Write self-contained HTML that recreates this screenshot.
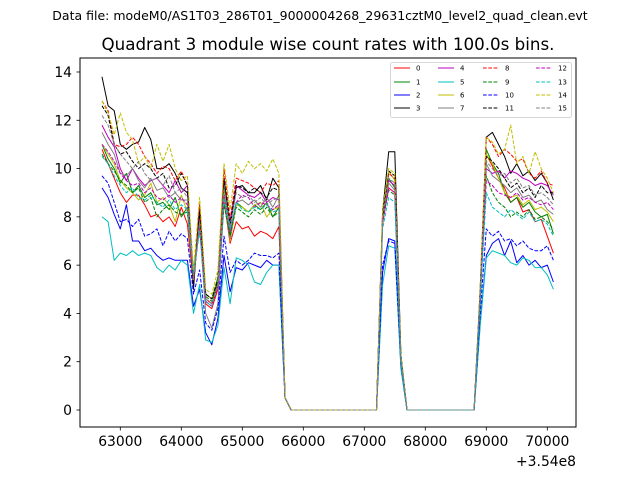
<!DOCTYPE html>
<html><head><meta charset="utf-8"><style>
body{margin:0;background:#fff;}
svg text{font-family:"DejaVu Sans","Liberation Sans",sans-serif;}
</style></head><body>
<svg id="chart" width="640" height="480" xmlns="http://www.w3.org/2000/svg">
<rect width="640" height="480" fill="#fff"/>
<text x="320" y="20" font-size="12.5" text-anchor="middle">Data file: modeM0/AS1T03_286T01_9000004268_29631cztM0_level2_quad_clean.evt</text>
<text x="328" y="50" font-size="16.7" text-anchor="middle">Quadrant 3 module wise count rates with 100.0s bins.</text>
<g id="plot"></g>
<rect x="80" y="58" width="496" height="369" fill="none" stroke="#000" stroke-width="1"/>
<g id="axes"></g>
<text x="576" y="466" font-size="13.9" text-anchor="end">+3.54e8</text>
<g id="legend"></g>
</svg>
<script>
const times = [];
for (let t = 62700; t <= 70100; t += 100) times.push(t);
const xTicks = [63000,64000,65000,66000,67000,68000,69000,70000];
const xTickLabels = ["63000","64000","65000","66000","67000","68000","69000","70000"];
const yTicks = [0,2,4,6,8,10,12,14];
const yTickLabels = ["0","2","4","6","8","10","12","14"];
const seriesNames = ["0","1","2","3","4","5","6","7","8","9","10","11","12","13","14","15"];
const gap1 = [0.5,0,0,0,0,0,0,0,0,0,0,0,0,0,0,0];
const gap2 = [0,0,0,0,0,0,0,0,0,0,0,0];
const seg1 = [
[10.8,10.2,9.6,9.0,8.6,8.9,8.9,8.5,8.0,8.1,7.8,8.0,7.6,8.4,7.7,5.2,8.3,4.4,4.2,5.0,8.7,6.9,7.8,7.5,7.6,7.2,7.4,7.3,7.1,7.6],
[11.0,10.4,10.0,9.4,9.8,9.0,9.3,8.8,9.0,8.5,8.6,8.3,8.8,8.0,8.4,5.8,7.6,4.8,4.6,5.5,9.0,7.3,8.6,8.4,8.2,8.5,8.3,8.6,8.0,8.4],
[9.2,8.8,8.1,7.5,8.5,7.0,7.0,6.6,6.7,6.4,6.2,6.3,6.2,6.2,6.2,4.3,5.0,3.2,2.7,3.8,6.4,4.9,5.9,5.8,6.1,6.0,5.9,6.2,6.0,6.0],
[13.8,12.6,12.4,11.0,10.8,11.0,11.1,11.7,11.2,10.0,10.0,10.2,9.8,9.2,9.0,5.0,8.5,4.8,4.6,5.3,9.6,7.6,9.2,9.3,9.0,9.0,9.3,8.7,9.6,9.2],
[11.8,11.3,10.9,10.0,9.5,10.0,9.6,9.3,9.5,9.6,9.3,9.0,9.5,9.0,9.3,5.5,7.9,4.6,4.4,5.2,9.0,7.8,9.3,9.1,8.9,8.8,9.0,8.6,8.8,8.7],
[8.0,7.8,6.2,6.5,6.4,6.6,6.4,6.5,6.4,5.9,5.7,6.0,5.8,6.2,6.0,4.0,5.2,2.9,2.8,3.5,5.9,4.4,6.3,6.2,6.0,5.3,5.2,5.7,6.0,6.0],
[11.0,10.6,10.2,9.5,9.2,9.0,8.7,8.9,9.4,8.6,8.8,8.5,7.8,8.9,8.2,5.5,7.8,4.8,4.6,5.4,9.2,7.0,8.5,8.4,8.2,8.5,8.6,8.0,8.3,8.4],
[11.5,11.0,10.6,9.8,9.7,10.0,9.5,9.2,9.6,9.1,9.2,8.8,9.0,8.7,8.7,5.6,7.7,4.0,3.4,4.4,8.6,7.1,8.6,8.7,8.5,8.7,8.4,8.8,8.4,8.9],
[12.8,12.4,11.0,10.9,11.0,11.3,11.0,10.5,10.2,9.8,10.1,10.0,9.5,9.9,9.3,5.2,8.5,4.6,4.4,5.2,10.0,7.9,9.6,9.5,9.4,9.2,9.0,9.4,9.3,9.5],
[10.6,10.2,9.9,9.5,9.3,9.0,9.2,8.6,8.8,8.0,8.3,8.5,8.2,8.1,8.2,5.6,7.6,4.7,4.5,5.3,8.5,7.2,8.4,8.2,8.0,8.3,8.1,8.4,8.0,8.2],
[9.7,9.4,8.6,7.8,7.9,7.6,7.9,7.2,7.3,7.5,6.8,7.4,7.0,7.3,7.1,4.8,5.8,3.6,3.3,4.2,7.2,5.7,6.2,6.0,6.2,6.5,6.4,6.4,6.3,6.5],
[12.6,12.2,11.0,10.6,10.7,10.3,10.0,10.2,10.0,9.6,9.8,9.2,9.3,9.8,9.3,5.2,8.2,4.8,4.6,5.4,9.5,7.7,9.3,9.2,9.0,9.2,9.0,8.8,9.2,9.1],
[11.0,10.7,10.3,9.8,9.5,9.3,9.4,9.0,9.2,8.8,8.7,8.9,8.6,8.8,8.5,5.4,7.6,4.5,4.3,5.1,8.9,7.4,8.6,8.9,8.8,8.4,8.6,8.5,8.3,8.5],
[10.5,10.2,9.7,9.3,9.0,9.2,8.8,8.7,8.9,8.6,8.4,8.7,8.3,8.5,8.3,5.6,7.4,4.5,4.3,5.2,8.8,7.5,8.6,8.3,8.2,8.4,8.3,8.5,8.2,8.3],
[12.8,12.3,11.4,12.3,11.5,11.2,10.2,10.5,10.0,11.0,10.3,11.0,10.0,9.5,9.7,5.8,8.8,5.0,4.8,5.8,10.2,8.3,10.2,9.8,10.3,10.0,10.2,9.9,10.4,9.8],
[12.2,11.8,11.0,10.6,10.3,10.0,10.3,9.8,9.5,9.6,9.3,9.7,9.0,9.2,8.8,5.4,7.8,4.6,4.4,5.2,9.2,7.6,9.0,8.8,8.9,8.6,8.8,8.5,8.7,8.8]
];
const spike = [
[7.8,9.2,9.0,2.1],[8.0,9.6,9.2,2.2],[5.7,7.1,7.0,1.8],[8.2,10.7,10.7,2.3],
[7.9,9.5,9.3,2.1],[5.2,6.8,6.7,1.7],[8.0,9.9,9.5,2.2],[7.8,9.4,9.1,2.1],
[8.1,9.8,9.6,2.2],[7.9,9.1,8.9,2.1],[6.0,7.0,6.9,1.9],[8.0,9.9,9.7,2.2],
[7.7,9.2,9.0,2.0],[7.5,8.8,8.6,2.0],[8.3,10.0,9.8,2.3],[7.9,9.6,9.4,2.1]
];
const seg3 = [
[4.4,10.6,10.1,9.6,9.2,8.6,8.8,8.2,8.3,7.8,7.9,7.2,6.5],
[4.8,10.8,10.2,9.8,9.0,8.6,8.8,8.4,8.6,8.2,8.0,8.1,7.3],
[3.6,6.4,6.9,7.1,6.4,7.0,6.1,6.4,6.0,6.2,5.9,6.0,5.3],
[5.0,11.3,11.5,11.0,10.5,9.8,10.2,9.7,9.9,9.5,9.8,9.4,8.7],
[4.8,10.0,9.8,9.9,9.6,9.9,9.8,9.6,9.5,9.3,9.4,9.3,8.9],
[3.5,6.3,6.6,6.5,6.4,6.1,6.0,6.3,6.2,5.9,5.9,5.6,5.0],
[4.8,10.6,10.2,9.6,9.0,8.8,8.9,8.5,8.7,8.3,8.4,8.2,7.8],
[4.9,10.2,9.7,9.5,9.3,9.0,9.2,8.8,8.9,8.6,8.7,8.3,8.1],
[5.0,11.3,11.0,10.5,10.8,10.6,10.3,10.4,9.8,9.6,9.9,9.4,9.3],
[4.6,9.7,9.0,8.6,8.4,8.0,8.2,8.0,8.3,7.9,8.0,7.8,7.5],
[4.0,7.5,7.2,7.4,7.0,7.1,6.8,7.0,6.7,6.6,6.6,6.8,6.2],
[4.9,10.5,10.3,10.0,9.6,9.2,9.4,9.0,9.2,8.8,9.3,9.0,9.0],
[4.7,9.5,9.3,9.0,8.9,8.8,9.0,8.7,8.8,8.6,8.5,8.6,8.3],
[4.5,9.0,8.4,8.2,8.0,8.3,8.1,7.9,8.2,7.8,7.9,7.7,7.2],
[5.2,11.3,11.1,10.6,10.8,11.8,10.2,10.5,9.8,10.7,10.0,9.6,9.0],
[4.9,10.3,10.0,9.7,9.8,9.4,9.6,9.2,9.3,8.9,9.0,8.8,8.5]
];
const colors = ["#ff0000","#008000","#0000ff","#000000","#bf00bf","#00bfbf","#bfbf00","#808080"];
const NS = "http://www.w3.org/2000/svg";
function xs(t){ return 120.3 + (t - 63000) * 0.061; }
function ys(v){ return 410 - v * 24.143; }
function mk(tag, attrs, parent){ const e = document.createElementNS(NS, tag); for (const k in attrs) e.setAttribute(k, attrs[k]); parent.appendChild(e); return e; }
const plot = document.getElementById('plot');
for (let s = 0; s < 16; s++) {
  const vals = seg1[s].concat(gap1, spike[s], gap2, seg3[s]);
  const pts = vals.map((v, i) => xs(times[i]).toFixed(1) + ',' + ys(v).toFixed(1)).join(' ');
  const pl = mk('polyline', {points: pts, fill: 'none', stroke: colors[s % 8], 'stroke-width': 1, 'stroke-linejoin': 'round'}, plot);
  if (s >= 8) pl.setAttribute('stroke-dasharray', '3.7,1.6');
  
  
}
const axes = document.getElementById('axes');
xTicks.forEach((t, i) => {
  const x = xs(t);
  const tk = mk('line', {x1: x, x2: x, y1: 427, y2: 430.5, stroke: '#000', 'stroke-width': 0.8}, axes);
  
  
  const tx = mk('text', {x: x, y: 446, 'font-size': 13.9, 'text-anchor': 'middle'}, axes);
  tx.textContent = xTickLabels[i];
  
  
});
yTicks.forEach((v, i) => {
  const y = ys(v);
  const tk = mk('line', {x1: 76.5, x2: 80, y1: y, y2: y, stroke: '#000', 'stroke-width': 0.8}, axes);
  
  
  const tx = mk('text', {x: 72, y: y + 5, 'font-size': 13.9, 'text-anchor': 'end'}, axes);
  tx.textContent = yTickLabels[i];
  
  
});
const lg = document.getElementById('legend');
const box = mk('rect', {x: 390.5, y: 62.5, width: 181, height: 55, rx: 2, fill: '#fff', 'fill-opacity': 0.8, stroke: '#ccc', 'stroke-width': 0.8}, lg);


const colX = [394, 438, 483, 536];
const rowY = [68, 82, 95, 108];
for (let s = 0; s < 16; s++) {
  const c = Math.floor(s / 4), r = s % 4;
  const ln = mk('line', {x1: colX[c], x2: colX[c] + 16, y1: rowY[r], y2: rowY[r], stroke: colors[s % 8], 'stroke-width': 1}, lg);
  if (s >= 8) ln.setAttribute('stroke-dasharray', '3.7,1.6');
  
  
  const tx = mk('text', {x: colX[c] + 22, y: rowY[r] + 2.5, 'font-size': 7}, lg);
  tx.textContent = seriesNames[s];
  
  
}
</script>
</body></html>
